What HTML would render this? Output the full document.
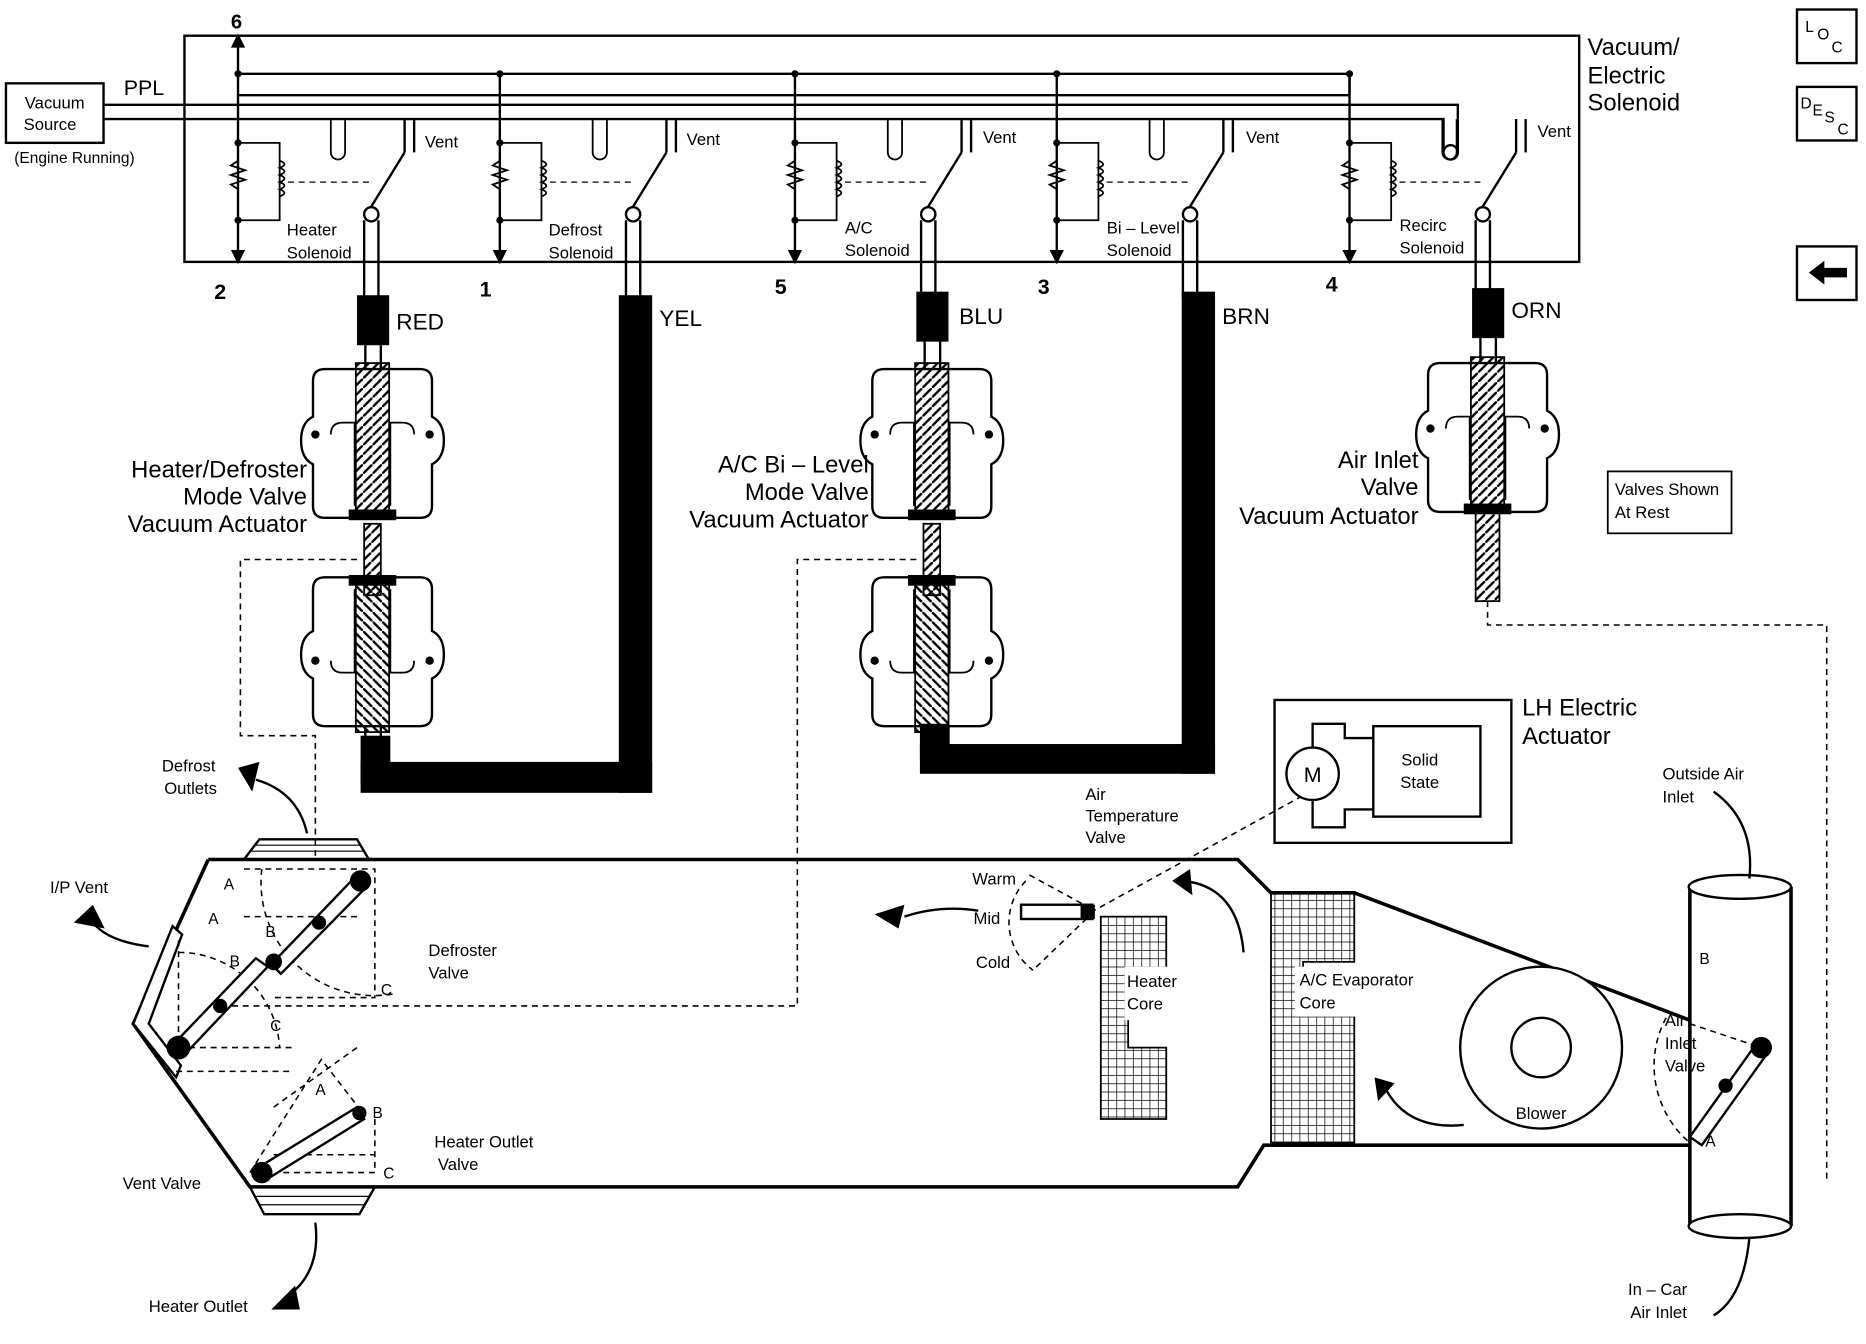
<!DOCTYPE html>
<html><head><meta charset="utf-8"><style>
html,body{margin:0;padding:0;background:#fff}
svg{display:block}
text{font-family:"Liberation Sans",sans-serif;fill:#000}
</style></head><body>
<svg width="1866" height="1344" viewBox="0 0 1568 1129" preserveAspectRatio="none" xmlns="http://www.w3.org/2000/svg">
<defs>
<pattern id="hatch" width="8" height="8" patternUnits="userSpaceOnUse"><path d="M0 8 L8 0" stroke="#000" stroke-width="2"/></pattern>
<pattern id="grid" width="7" height="7" patternUnits="userSpaceOnUse"><path d="M0 0H7M0 0V7" stroke="#000" stroke-width="1.2"/></pattern>
<g id="sol">
<line x1="0" y1="62" x2="0" y2="215" stroke="#000" stroke-width="2"/>
<path d="M-6 210 L0 222 L6 210Z" fill="#000"/>
<circle cx="0" cy="62" r="3" fill="#000"/>
<path d="M0 120 H35 V185 H0" fill="none" stroke="#000" stroke-width="1.5"/>
<path d="M0 135 l-6 4 l12 4 l-12 4 l12 4 l-12 4 l6 4" fill="none" stroke="#000" stroke-width="1.5"/>
<path d="M35 135 q8 3 0 6 q8 3 0 6 q8 3 0 6 q8 3 0 6 q8 3 0 6" fill="none" stroke="#000" stroke-width="1.5"/>
<line x1="42" y1="153" x2="110" y2="153" stroke="#000" stroke-dasharray="5,4"/>
<circle cx="0" cy="120" r="3" fill="#000"/><circle cx="0" cy="185" r="3" fill="#000"/>
<path d="M78 100 V128 a6 6 0 0 0 12 0 V100" fill="none" stroke="#000" stroke-width="1.5"/>
<line x1="108" y1="180" x2="140" y2="128" stroke="#000" stroke-width="2"/>
<line x1="140" y1="128" x2="140" y2="100" stroke="#000" stroke-width="2"/>
<line x1="148" y1="128" x2="148" y2="100" stroke="#000" stroke-width="2"/>
<circle cx="112" cy="180" r="6" fill="#fff" stroke="#000" stroke-width="2"/>
<line x1="106" y1="185" x2="106" y2="250" stroke="#000" stroke-width="2"/>
<line x1="118" y1="185" x2="118" y2="250" stroke="#000" stroke-width="2"/>
</g>
<g id="act">
<path d="M-40 0 h80 q10 0 10 10 v30 q10 5 10 20 q0 15 -10 20 v35 q0 10 -10 10 h-80 q-10 0 -10 -10 v-35 q-10 -5 -10 -20 q0 -15 10 -20 v-30 q0 -10 10 -10Z" fill="none" stroke="#000" stroke-width="2"/>
<path d="M-35 55 q0 -10 10 -10 h10 v70 M35 55 q0 -10 -10 -10 h-10 v70" fill="none" stroke="#000" stroke-width="1.5"/>
<circle cx="-48" cy="55" r="3.5" fill="#000"/><circle cx="48" cy="55" r="3.5" fill="#000"/>
<rect x="-14" y="-5" width="28" height="127" fill="url(#hatch)" stroke="#000" stroke-width="1.5"/>
<rect x="-20" y="118" width="40" height="9" fill="#000"/>
</g>
</defs>

<rect x="155" y="30" width="1172" height="190" fill="none" stroke="#000" stroke-width="2"/>
<line x1="200" y1="62" x2="1134" y2="62" stroke="#000" stroke-width="2"/>
<line x1="200" y1="80" x2="1134" y2="80" stroke="#000" stroke-width="2"/>
<line x1="200" y1="30" x2="200" y2="62" stroke="#000" stroke-width="2"/><path d="M194 40 L200 28 L206 40Z" fill="#000"/>
<line x1="1134" y1="62" x2="1134" y2="80" stroke="#000" stroke-width="2"/>
<path d="M87 88 H1225 V128 M87 100 H1213 V128" fill="none" stroke="#000" stroke-width="2"/>
<circle cx="1219" cy="128" r="6" fill="#fff" stroke="#000" stroke-width="2"/>
<rect x="5" y="70" width="82" height="50" fill="#fff" stroke="#000" stroke-width="2"/>
<text x="46" y="91" font-size="14" text-anchor="middle">Vacuum</text>
<text x="42" y="109" font-size="14" text-anchor="middle">Source</text>
<text x="12" y="137" font-size="13">(Engine Running)</text>
<text x="104" y="80" font-size="18">PPL</text>
<text x="194" y="24" font-size="17" font-weight="bold">6</text>

<use href="#sol" x="200" y="0"/>
<use href="#sol" x="420" y="0"/>
<use href="#sol" x="668" y="0"/>
<use href="#sol" x="888" y="0"/>
<use href="#sol" x="1134" y="0"/>
<g font-size="14">
<text x="357" y="124">Vent</text><text x="577" y="122">Vent</text><text x="826" y="120">Vent</text><text x="1047" y="120">Vent</text><text x="1292" y="115">Vent</text>
<text x="241" y="198">Heater</text><text x="241" y="217">Solenoid</text>
<text x="461" y="198">Defrost</text><text x="461" y="217">Solenoid</text>
<text x="710" y="196">A/C</text><text x="710" y="215">Solenoid</text>
<text x="930" y="196">Bi – Level</text><text x="930" y="215">Solenoid</text>
<text x="1176" y="194">Recirc</text><text x="1176" y="213">Solenoid</text>
</g>
<g font-size="18" font-weight="bold">
<text x="180" y="251">2</text><text x="403" y="249">1</text><text x="651" y="247">5</text><text x="872" y="247">3</text><text x="1114" y="245">4</text>
</g>
<text x="1334" y="46" font-size="20">Vacuum/</text>
<text x="1334" y="70" font-size="20">Electric</text>
<text x="1334" y="93" font-size="20">Solenoid</text>

<rect x="300" y="248" width="27" height="42" fill="#000"/><text x="333" y="277" font-size="19">RED</text>
<rect x="520" y="248" width="28" height="418" fill="#000"/><text x="554" y="274" font-size="19">YEL</text>
<rect x="770" y="245" width="27" height="42" fill="#000"/><text x="806" y="272" font-size="19">BLU</text>
<rect x="993" y="245" width="28" height="405" fill="#000"/><text x="1027" y="272" font-size="19">BRN</text>
<rect x="1237" y="242" width="27" height="42" fill="#000"/><text x="1270" y="267" font-size="19">ORN</text>
<path d="M307 290 V310 M320 290 V310 M777 287 V310 M790 287 V310 M1244 284 V305 M1257 284 V305" stroke="#000" stroke-width="2"/>
<rect x="303" y="640" width="245" height="26" fill="#000"/><rect x="303" y="618" width="25" height="40" fill="#000"/>
<rect x="773" y="625" width="248" height="25" fill="#000"/><rect x="773" y="608" width="25" height="30" fill="#000"/>

<use href="#act" x="313" y="310"/>
<g transform="translate(313,610) scale(1,-1)"><use href="#act"/></g>
<use href="#act" x="783" y="310"/>
<g transform="translate(783,610) scale(1,-1)"><use href="#act"/></g>
<use href="#act" x="1250" y="305"/>
<rect x="1240" y="430" width="20" height="75" fill="url(#hatch)" stroke="#000" stroke-width="1.5"/>
<rect x="306" y="440" width="14" height="60" fill="url(#hatch)" stroke="#000" stroke-width="1.5"/>
<rect x="776" y="440" width="14" height="60" fill="url(#hatch)" stroke="#000" stroke-width="1.5"/>
<path d="M307 610 V625 M320 610 V625 M777 610 V625 M790 610 V625" stroke="#000" stroke-width="2"/>

<g font-size="20" text-anchor="end">
<text x="258" y="401">Heater/Defroster</text><text x="258" y="424">Mode Valve</text><text x="258" y="447">Vacuum Actuator</text>
<text x="730" y="397">A/C Bi – Level</text><text x="730" y="420">Mode Valve</text><text x="730" y="443">Vacuum Actuator</text>
<text x="1192" y="393">Air Inlet</text><text x="1192" y="416">Valve</text><text x="1192" y="440">Vacuum Actuator</text>
</g>
<rect x="1351" y="396" width="104" height="52" fill="none" stroke="#000" stroke-width="1.5"/>
<text x="1357" y="416" font-size="14">Valves Shown</text><text x="1357" y="435" font-size="14">At Rest</text>

<rect x="1510" y="8" width="50" height="45" fill="none" stroke="#000" stroke-width="2"/>
<text x="1517" y="27" font-size="13">L</text><text x="1527" y="33" font-size="13">O</text><text x="1539" y="44" font-size="13">C</text>
<rect x="1510" y="73" width="50" height="45" fill="none" stroke="#000" stroke-width="2"/>
<text x="1513" y="91" font-size="13">D</text><text x="1523" y="97" font-size="13">E</text><text x="1533" y="103" font-size="13">S</text><text x="1544" y="113" font-size="13">C</text>
<rect x="1510" y="207" width="50" height="45" fill="none" stroke="#000" stroke-width="2"/>
<path d="M1520 229 L1533 219 V225 H1552 V233 H1533 V239Z" fill="#000"/>

<g fill="none" stroke="#000" stroke-dasharray="5,4" stroke-width="1.3">
<path d="M300 470 H202 V618 H265 V720"/>
<path d="M770 470 H670 V845 H180"/>
<path d="M1250 505 V525 H1535 V990"/>
<path d="M1110 660 L910 770"/>
</g>

<rect x="1071" y="588" width="199" height="120" fill="none" stroke="#000" stroke-width="2"/>
<rect x="1154" y="610" width="90" height="76" fill="none" stroke="#000" stroke-width="2"/>
<path d="M1103 630 V608 H1130 V620 H1154 M1103 672 V695 H1130 V680 H1154" fill="none" stroke="#000" stroke-width="2"/>
<circle cx="1103" cy="650" r="22" fill="#fff" stroke="#000" stroke-width="2"/>
<text x="1103" y="657" font-size="18" text-anchor="middle">M</text>
<text x="1193" y="643" font-size="14" text-anchor="middle">Solid</text><text x="1193" y="662" font-size="14" text-anchor="middle">State</text>
<text x="1279" y="601" font-size="20">LH Electric</text><text x="1279" y="625" font-size="20">Actuator</text>

<!-- duct -->
<path d="M175 722 H1040 L1068 750 H1138 L1420 857" fill="none" stroke="#000" stroke-width="3"/>
<path d="M1420 962 H1062 L1040 997 H210 L112 860 L175 722" fill="none" stroke="#000" stroke-width="3"/>
<path d="M1420 745 V1030 M1505 745 V1030" stroke="#000" stroke-width="3"/>
<ellipse cx="1462" cy="745" rx="43" ry="10" fill="#fff" stroke="#000" stroke-width="2"/>
<ellipse cx="1462" cy="1030" rx="43" ry="10" fill="#fff" stroke="#000" stroke-width="2"/>
<path d="M205 722 L218 705 H300 L310 722" fill="none" stroke="#000" stroke-width="2"/>
<path d="M210 715 H305 M213 710 H303" stroke="#000"/>
<path d="M210 997 L222 1020 H302 L315 997" fill="none" stroke="#000" stroke-width="2"/>
<path d="M214 1005 H310 M217 1012 H307" stroke="#000"/>
<path d="M145 778 L112 860 L148 905 L152 895 L125 860 L153 785Z" fill="#fff" stroke="#000" stroke-width="2"/>
<g fill="none" stroke="#000" stroke-dasharray="5,4" stroke-width="1.3">
<path d="M205 730 H315 V838 H230 M205 770 H300 M220 730 A95 95 0 0 0 330 835"/>
<path d="M150 880 H245 M150 790 V880 M148 900 H245 M150 800 A85 85 0 0 1 235 880"/>
<path d="M220 985 H315 V940 M230 970 H315 M230 930 L300 880 M210 985 L270 890 L305 935"/>
<path d="M1420 860 L1480 880 L1420 960 M1400 855 A85 85 0 0 0 1420 960"/>
<path d="M865 735 L920 765 L868 815 M862 740 A50 50 0 0 0 868 815"/>
</g>
<g stroke="#000" stroke-width="2" fill="#fff">
<path d="M228 810 L300 735 L308 745 L236 818Z"/>
<path d="M145 878 L215 805 L225 812 L155 886Z"/>
<path d="M215 982 L300 930 L306 940 L222 992Z"/>
<path d="M1420 955 L1475 878 L1485 885 L1430 962Z"/>
<rect x="858" y="760" width="60" height="12"/>
</g>
<g fill="#000">
<circle cx="303" cy="740" r="9"/><circle cx="230" cy="808" r="7"/><circle cx="268" cy="775" r="6"/>
<circle cx="150" cy="880" r="10"/><circle cx="185" cy="845" r="6"/>
<circle cx="220" cy="985" r="9"/><circle cx="302" cy="935" r="6"/>
<circle cx="1480" cy="880" r="9"/><circle cx="1450" cy="912" r="6"/>
<rect x="908" y="760" width="12" height="12"/>
</g>
<path d="M925 770 H980 V845 H948 V880 H980 V940 H925Z" fill="url(#grid)" stroke="#000" stroke-width="1.5"/>
<rect x="945" y="812" width="48" height="45" fill="#fff"/>
<path d="M1068 750 H1138 V808 H1095 V850 H1138 V960 H1068Z" fill="url(#grid)" stroke="#000" stroke-width="1.5"/>
<rect x="1088" y="812" width="112" height="42" fill="#fff"/>
<circle cx="1295" cy="880" r="68" fill="#fff" stroke="#000" stroke-width="2"/>
<circle cx="1295" cy="880" r="25" fill="none" stroke="#000" stroke-width="2"/>
<text x="1295" y="940" font-size="14" text-anchor="middle">Blower</text>
<g fill="none" stroke="#000" stroke-width="2">
<path d="M258 700 Q250 665 215 655"/><path d="M125 795 Q85 790 75 770"/><path d="M265 1027 Q270 1070 240 1090"/>
<path d="M1045 800 Q1040 745 995 740"/><path d="M1230 945 Q1180 950 1162 910"/><path d="M822 765 Q790 760 760 770"/>
<path d="M1440 665 Q1475 690 1470 738"/><path d="M1440 1105 Q1465 1090 1470 1040"/>
</g>
<g fill="#000">
<path d="M200 645 L218 640 L212 665Z"/><path d="M62 775 L78 760 L88 780Z"/><path d="M228 1100 L248 1080 L252 1100Z"/>
<path d="M985 740 L1000 730 L1002 752Z"/><path d="M1155 905 L1172 910 L1158 925Z"/><path d="M735 768 L760 760 L755 780Z"/>
</g>
<g font-size="14">
<text x="136" y="648">Defrost</text><text x="138" y="667">Outlets</text>
<text x="42" y="750">I/P Vent</text>
<text x="360" y="803">Defroster</text><text x="360" y="822">Valve</text>
<text x="103" y="999">Vent Valve</text>
<text x="365" y="964">Heater Outlet</text><text x="368" y="983">Valve</text>
<text x="125" y="1102">Heater Outlet</text>
<text x="912" y="672">Air</text><text x="912" y="690">Temperature</text><text x="912" y="708">Valve</text>
<text x="817" y="743">Warm</text><text x="818" y="776">Mid</text><text x="820" y="813">Cold</text>
<text x="947" y="829">Heater</text><text x="947" y="848">Core</text>
<text x="1092" y="828">A/C Evaporator</text><text x="1092" y="847">Core</text>
<text x="1397" y="655">Outside Air</text><text x="1397" y="674">Inlet</text>
<text x="1399" y="862">Air</text><text x="1399" y="881">Inlet</text><text x="1399" y="900">Valve</text>
<text x="1368" y="1088">In – Car</text><text x="1370" y="1107">Air Inlet</text>
</g>
<g font-size="13">
<text x="188" y="747">A</text><text x="175" y="776">A</text><text x="223" y="787">B</text><text x="193" y="812">B</text>
<text x="320" y="836">C</text><text x="227" y="866">C</text><text x="265" y="920">A</text><text x="313" y="939">B</text><text x="322" y="990">C</text>
<text x="1428" y="810">B</text><text x="1433" y="963">A</text>
</g>
</svg>
</body></html>
